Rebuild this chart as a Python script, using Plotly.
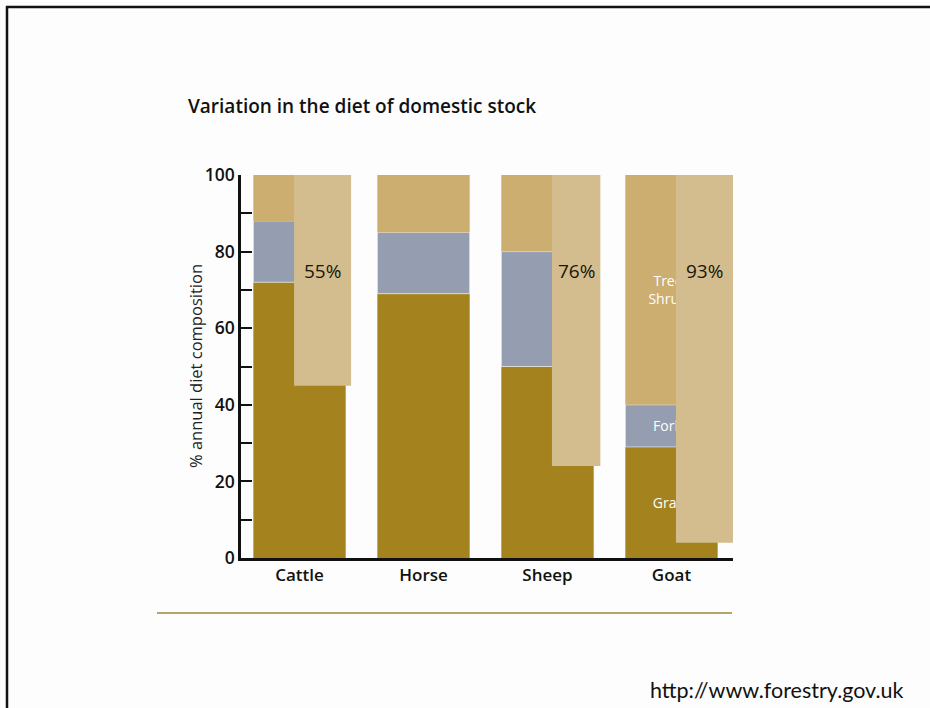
import numpy as np
import plotly.graph_objects as go

# ---- data ----
categories = ["Cattle", "Horse", "Sheep", "Goat"]
grass = [72, 69, 50, 29]
forbs = [16, 16, 30, 11]
trees = [12, 15, 20, 60]
overlay_bottom = [45, None, 24, 4]
overlay_labels = ["55%", "", "76%", "93%"]
grass_text = ["", "", "", "Grass"]
forbs_text = ["", "", "", "Forbs"]
trees_text = ["", "", "", "Trees<br>Shrubs"]
y_tick_vals = [0, 10, 20, 30, 40, 50, 60, 70, 80, 90, 100]
y_tick_text = ["0", "", "20", "", "40", "", "60", "", "80", "", "100"]

# ---- style ----
C_GRASS = "#a4831f"
C_FORBS = "#959db1"
C_TREES = "#cbae70"
C_OVER = "#d3bd8f"
FONT = "Open Sans"
bar_width = 0.745
ov_offset = [-0.044, 0, 0.036, 0.036]
ov_width = [0.46, 0, 0.39, 0.46]

W, H = 930, 708
L, R, T, B = 241, 197, 175, 150
PW, PH = W - L - R, H - T - B


def px(p):
    return (p - L) / PW


def py(q):
    return (H - B - q) / PH


x = np.arange(len(categories))
g = np.array(grass, dtype=float)
f = np.array(forbs, dtype=float)
t = np.array(trees, dtype=float)

fig = go.Figure()
common = dict(x=x, width=bar_width, hoverinfo="skip", textposition="inside",
              insidetextanchor="middle", textangle=0,
              insidetextfont=dict(family=FONT, size=14, color="white"),
              constraintext="none")
fig.add_trace(go.Bar(y=g, base=0, marker=dict(color=C_GRASS, line=dict(width=0)),
                     text=grass_text, **common))
fig.add_trace(go.Bar(y=f, base=g, marker=dict(color=C_FORBS, line=dict(width=1, color="rgba(255,255,255,0.55)")),
                     text=forbs_text, **common))
fig.add_trace(go.Bar(y=t, base=g + f, marker=dict(color=C_TREES, line=dict(width=0)),
                     text=trees_text, **common))

# overlay bars (share of trees/shrubs browse)
ox, ob, oh, ooff, ow = [], [], [], [], []
for i, b in enumerate(overlay_bottom):
    if b is None:
        continue
    ox.append(i)
    ob.append(b)
    oh.append(100 - b)
    ooff.append(ov_offset[i])
    ow.append(ov_width[i])
fig.add_trace(go.Bar(x=ox, y=oh, base=ob, offset=ooff, width=ow,
                     marker=dict(color=C_OVER, line=dict(width=0)), hoverinfo="skip"))

annotations = []
for i, lab in enumerate(overlay_labels):
    if not lab:
        continue
    annotations.append(dict(x=i + ov_offset[i] + ov_width[i] / 2, y=75, xref="x", yref="y",
                            text=lab, showarrow=False,
                            font=dict(family=FONT, size=19, color="#1a150a")))

annotations.append(dict(x=px(186), y=py(106), xref="paper", yref="paper", xanchor="left",
                        yanchor="middle", showarrow=False,
                        text="Variation in the diet of domestic stock",
                        font=dict(family=FONT, size=19, color="#111111", weight=600)))
annotations.append(dict(x=px(195), y=py(366), xref="paper", yref="paper", xanchor="center",
                        yanchor="middle", showarrow=False, textangle=-90,
                        text="% annual diet composition",
                        font=dict(family=FONT, size=16.5, color="#222222")))
annotations.append(dict(x=px(648), y=py(690), xref="paper", yref="paper", xanchor="left",
                        yanchor="middle", showarrow=False,
                        text="http://www.forestry.gov.uk",
                        font=dict(family="Lato", size=21.5, color="#111111")))

shapes = [
    dict(type="line", xref="paper", yref="paper", x0=px(157), x1=px(732), y0=py(613), y1=py(613),
         line=dict(color="#b3a468", width=2)),
    dict(type="line", xref="paper", yref="paper", x0=px(6), x1=px(932), y0=py(7), y1=py(7),
         line=dict(color="#111111", width=2.5)),
    dict(type="line", xref="paper", yref="paper", x0=px(7), x1=px(7), y0=py(6), y1=py(710),
         line=dict(color="#111111", width=2.5)),
]

fig.update_layout(
    width=W, height=H, margin=dict(l=L, r=R, t=T, b=B, pad=0),
    paper_bgcolor="#fdfdfd", plot_bgcolor="rgba(0,0,0,0)",
    barmode="overlay", showlegend=False,
    annotations=annotations, shapes=shapes,
    xaxis=dict(range=[-0.472, 3.496], tickmode="array", tickvals=list(x), ticktext=categories,
               showline=True, linecolor="#111111", linewidth=2.5, ticks="", showgrid=False,
               zeroline=False, fixedrange=True,
               tickfont=dict(family=FONT, size=17, color="#111111", weight=600)),
    yaxis=dict(range=[0, 100], tickmode="array", tickvals=y_tick_vals, ticktext=y_tick_text,
               showline=True, linecolor="#111111", linewidth=2.5, ticks="inside", ticklen=11,
               tickwidth=2, tickcolor="#111111", showgrid=False, zeroline=False, fixedrange=True,
               tickfont=dict(family=FONT, size=17.5, color="#111111", weight=600)),
)

fig.write_html("out.html", config=dict(displayModeBar=False))
